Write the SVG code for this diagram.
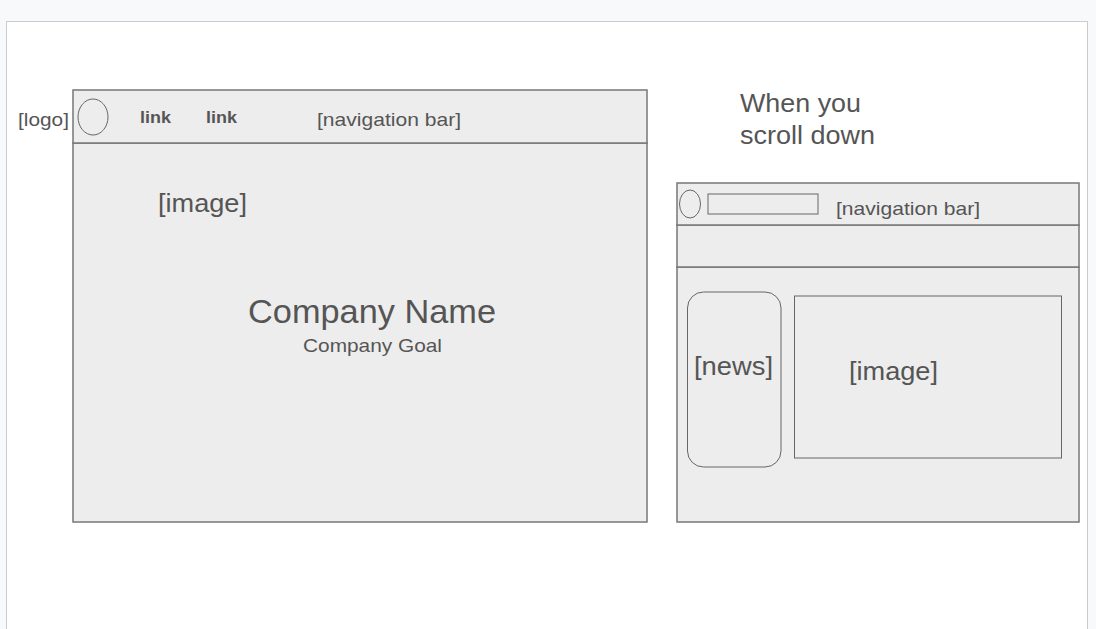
<svg xmlns="http://www.w3.org/2000/svg" width="1096" height="629" viewBox="0 0 1096 629">
<style>
.frame{fill:#ededed;stroke:#777;stroke-width:1.5}
.thin{fill:#ededed;stroke:#666;stroke-width:1}
.t{font-family:"Liberation Sans",Arial,sans-serif;fill:#555}
</style>
<rect x="0" y="0" width="1096" height="629" fill="#f8f9fb"/>
<rect x="6.5" y="21.5" width="1081" height="620" fill="#ffffff" stroke="#ccc" stroke-width="1"/>
<g id="main-page">
<rect class="frame" x="73" y="143" width="574" height="379"/>
<text class="t" x="158" y="212" font-size="25" textLength="89" lengthAdjust="spacingAndGlyphs">[image]</text>
<text class="t" x="248" y="323" font-size="33" textLength="248" lengthAdjust="spacingAndGlyphs">Company Name</text>
<text class="t" x="303" y="352" font-size="19" textLength="139" lengthAdjust="spacingAndGlyphs">Company Goal</text>
</g>
<g id="main-nav">
<rect class="frame" x="73" y="90" width="574" height="53" stroke-width="2"/>
<ellipse cx="93" cy="117" rx="15" ry="18" fill="none" stroke="#666" stroke-width="1"/>
<text class="t" x="140" y="123" font-size="17" font-weight="bold" textLength="31" lengthAdjust="spacingAndGlyphs">link</text>
<text class="t" x="206" y="123" font-size="17" font-weight="bold" textLength="31" lengthAdjust="spacingAndGlyphs">link</text>
<text class="t" x="317" y="126" font-size="19" textLength="144" lengthAdjust="spacingAndGlyphs">[navigation bar]</text>
</g>
<g id="logo-label"><text class="t" x="18" y="126" font-size="19" textLength="51" lengthAdjust="spacingAndGlyphs">[logo]</text></g>
<g id="scroll-label">
<text class="t" x="740" y="112" font-size="26" textLength="121" lengthAdjust="spacingAndGlyphs">When you</text>
<text class="t" x="740" y="144" font-size="26" textLength="135" lengthAdjust="spacingAndGlyphs">scroll down</text>
</g>
<g id="scroll-page">
<rect class="frame" x="677" y="267" width="402" height="255"/>
<rect class="frame" x="677" y="225" width="402" height="42"/>
</g>
<g id="scroll-nav">
<rect class="frame" x="677" y="183" width="402" height="42"/>
<ellipse cx="690" cy="204" rx="10.5" ry="14" fill="none" stroke="#666" stroke-width="1"/>
<rect class="thin" x="708" y="194" width="110" height="20"/>
<text class="t" x="836" y="215" font-size="19" textLength="144" lengthAdjust="spacingAndGlyphs">[navigation bar]</text>
</g>
<g id="news">
<rect class="thin" x="687.5" y="292" width="93.5" height="175" rx="16" ry="16"/>
<text class="t" x="694" y="375" font-size="25" textLength="79" lengthAdjust="spacingAndGlyphs">[news]</text>
</g>
<g id="image2">
<rect class="thin" x="794.5" y="296" width="267" height="162"/>
<text class="t" x="849" y="380" font-size="25" textLength="89" lengthAdjust="spacingAndGlyphs">[image]</text>
</g>
<g id="connectors"/>
</svg>
